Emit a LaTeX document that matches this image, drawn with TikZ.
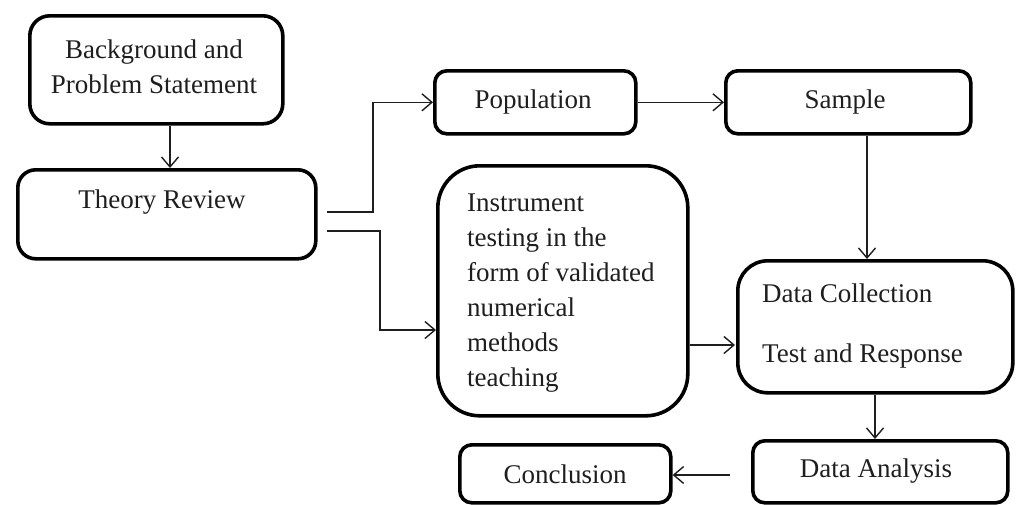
\documentclass[tikz,border=0pt]{standalone}
\usepackage{fontspec}
\setmainfont{Liberation Serif}
\usetikzlibrary{arrows.meta}
\definecolor{ink}{HTML}{1E1E1E}
\begin{document}
\begin{tikzpicture}[x=1pt,y=-1pt,
  box/.style={draw=black, line width=3.6pt, rounded corners=#1, anchor=north west, inner sep=0pt},
  txt/.style={text=ink, inner sep=0pt, font=\fontsize{27}{35}\selectfont},
  conn/.style={draw=ink, line width=1.4pt, -{Straight Barb[length=10pt,width=17pt,line width=1.4pt]}}]
\useasboundingbox (0,0) rectangle (1016,504);
% boxes
\node[box=20pt, minimum width=253pt, minimum height=108pt] (bg) at (28,14) {};
\node[box=18pt, minimum width=298pt, minimum height=89pt] (theory) at (16,168) {};
\node[box=12pt, minimum width=201pt, minimum height=63pt] (pop) at (433,69) {};
\node[box=12pt, minimum width=245pt, minimum height=63pt] (sample) at (724,69) {};
\node[box=42pt, minimum width=250pt, minimum height=250pt] (instr) at (436,164) {};
\node[box=30pt, minimum width=275pt, minimum height=132pt] (dc) at (736,259) {};
\node[box=12pt, minimum width=255pt, minimum height=62pt] (da) at (751,439) {};
\node[box=12pt, minimum width=211pt, minimum height=58pt] (concl) at (458,443) {};
% texts
\node[txt, align=center] (bgtxt) at (154,67) {Background and\\Problem Statement};
\node[txt] (theorytxt) at (162,202) {Theory Review};
\node[txt] (poptxt) at (533,102) {Population};
\node[txt] (sampletxt) at (845,102) {Sample};
\node[txt, align=left, anchor=north west] (instrtxt) at (467,194) {Instrument\\testing in the\\form of validated\\numerical\\methods\\teaching};
\node[txt, align=left, anchor=north west] (dctxt) at (762,284) {Data Collection\\[25pt]Test and Response};
\node[txt] (datxt) at (876,471) {Data Analysis};
\node[txt] (concltxt) at (565,474) {Conclusion};
% free ends
\coordinate (t1) at (327,212);
\coordinate (t2) at (327,231);
\coordinate (dcin) at (735,345);
\coordinate (daout) at (730,475);
% connectors
\draw[conn] (bg.south -| 170,0) -- (theory.north -| 170,0);
\draw[conn] (t1) -- (373,212) |- (pop.west);
\draw[conn] (t2) -- (380,231) |- (instr.west |- 0,330);
\draw[conn] (pop.east) -- (sample.west);
\draw[conn] (sample.south -| 867,0) -- (dc.north -| 867,0);
\draw[conn] (instr.east |- dcin) -- (dcin);
\draw[conn] (dc.south -| 875,0) -- (da.north -| 875,0);
\draw[conn] (daout) -- (concl.east |- daout);
\end{tikzpicture}
\end{document}
